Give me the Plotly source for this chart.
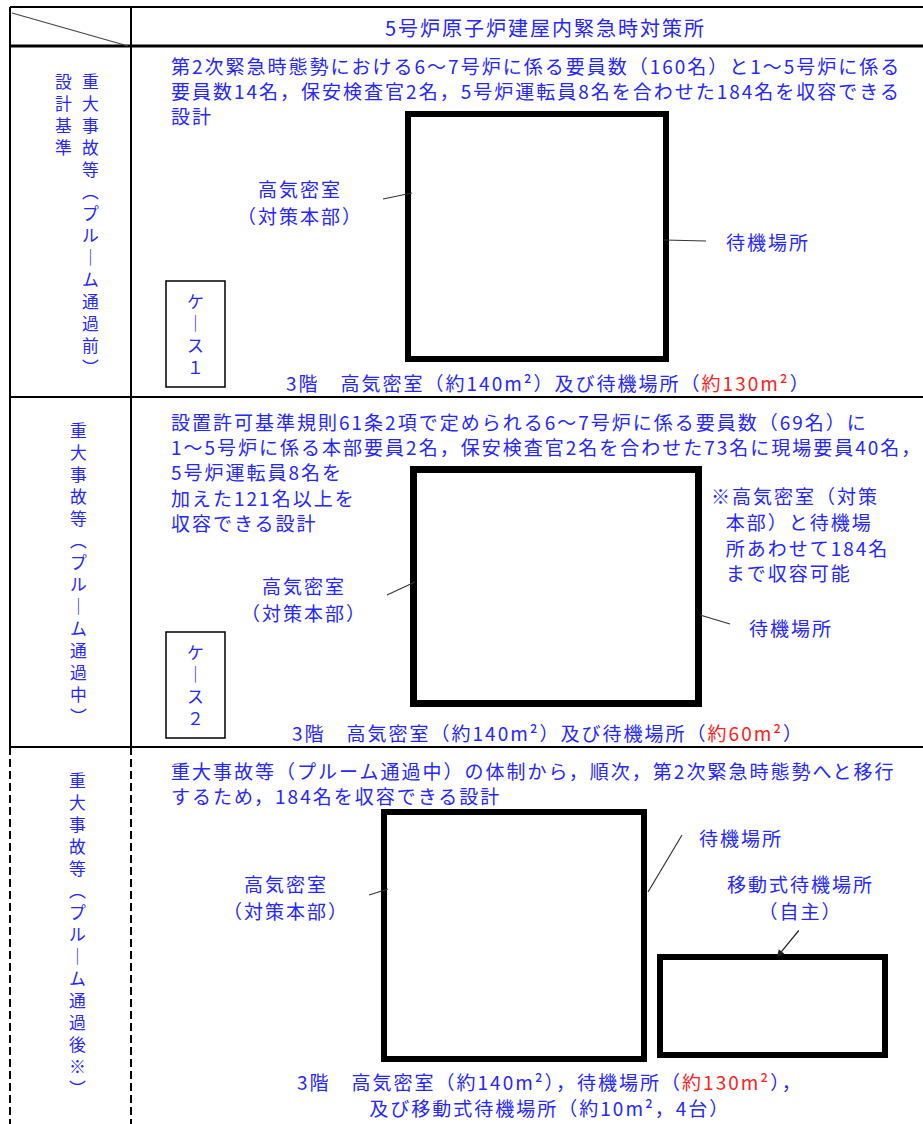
import plotly.graph_objects as go

# ---------------- content ----------------
HEADER_TITLE = "5号炉原子炉建屋内緊急時対策所"
ROW_LABELS = ["重大事故等（プルーム通過前）",
              "重大事故等（プルーム通過中）",
              "重大事故等（プルーム通過後※）"]
DESIGN_BASIS_LABEL = "設計基準"
CASE_LABELS = ["ケース１", "ケース２"]
ROW_TEXT = [
    ["第2次緊急時態勢における6～7号炉に係る要員数（160名）と1～5号炉に係る",
     "要員数14名，保安検査官2名，5号炉運転員8名を合わせた184名を収容できる",
     "設計"],
    ["設置許可基準規則61条2項で定められる6～7号炉に係る要員数（69名）に",
     "1～5号炉に係る本部要員2名，保安検査官2名を合わせた73名に現場要員40名，",
     "5号炉運転員8名を",
     "加えた121名以上を",
     "収容できる設計"],
    ["重大事故等（プルーム通過中）の体制から，順次，第2次緊急時態勢へと移行",
     "するため，184名を収容できる設計"],
]
NOTE_LINES = ["※高気密室（対策", "本部）と待機場", "所あわせて184名", "まで収容可能"]
HAC_NAME = ["高気密室", "（対策本部）"]
WAIT_NAME = "待機場所"
MOBILE_NAME = ["移動式待機場所", "（自主）"]
HAC_AREA = [140, 140, 140]      # m2
WAIT_AREA = [130, 60, 130]      # m2
MOBILE_AREA = 10                # m2
MOBILE_UNITS = 4

# ---------------- style ----------------
FONT = "Noto Sans CJK JP"
BLUE = "#2626ff"
RED = "#ff2020"
GLYPH = 19          # glyph size of the text
SPACING = 2         # letter spacing (px)
W, H = 923, 1124

fig = go.Figure()
shapes = []
ann = []


def line(x0, y0, x1, y1, width=2, color="black", dash=None):
    d = dict(type="line", xref="x", yref="y", x0=x0, y0=y0, x1=x1, y1=y1,
             line=dict(color=color, width=width))
    if dash:
        d["line"]["dash"] = dash
    shapes.append(d)


def rect(x0, y0, x1, y1, width=6, color="black"):
    shapes.append(dict(type="rect", xref="x", yref="y", x0=x0, y0=y0, x1=x1, y1=y1,
                       line=dict(color=color, width=width), fillcolor="rgba(0,0,0,0)"))


def block(x, y_first, lines, pitch=25.0, size=GLYPH, spacing=SPACING,
          xanchor="left", align="left", color=BLUE):
    """Multi-line text: line pitch set by base font, glyph size by inner span."""
    base = pitch / 1.3
    body = "<br>".join(
        f"<span style='font-size:{size}px;letter-spacing:{spacing}px'>{s}</span>"
        for s in lines)
    yc = y_first + (len(lines) - 1) * pitch / 2
    ann.append(dict(x=x, y=yc, xref="x", yref="y", text=body, showarrow=False,
                    xanchor=xanchor, yanchor="middle", align=align, borderpad=0,
                    font=dict(family=FONT, size=base, color=color)))


VERT = {"（": "︵", "）": "︶", "ー": "｜"}


def vtext(x, y_first, s, pitch=22.0, size=16.8):
    """Vertical (tategaki) column: one character per line."""
    chars = [VERT.get(c, c) for c in s]
    block(x, y_first, chars, pitch=pitch, size=size, spacing=0,
          xanchor="center", align="center")


def area(v, red=False):
    s = f"約{v}m²"
    return f"<span style='color:{RED}'>{s}</span>" if red else s


# ---------------- table grid ----------------
line(10, 7, W, 7, 2)
line(10, 46, W, 46, 3)
line(10, 397, W, 397, 2)
line(10, 747, W, 747, 2)
line(10, 7, 10, 747, 2)
line(131, 7, 131, 747, 2)
line(10, 747, 10, H, 2, dash="8px,4px")
line(131, 747, 131, H, 2, dash="8px,4px")
line(12, 13, 128, 46, 1.2, color="#444")

block(545, 27, [HEADER_TITLE], size=20, xanchor="center", align="center")

# ---------------- left column labels ----------------
vtext(90, 81, ROW_LABELS[0])
vtext(63, 81, DESIGN_BASIS_LABEL)
vtext(78, 430, ROW_LABELS[1])
vtext(77, 780, ROW_LABELS[2])

# case boxes
for (y0, y1), lab in zip([(281, 387), (632, 738)], CASE_LABELS):
    rect(166, y0, 225, y1, width=1.5)
    vtext(195.5, y0 + 20, lab)

# ---------------- row texts ----------------
block(170, 65, ROW_TEXT[0], pitch=25)
block(170, 422, ROW_TEXT[1], pitch=25.2)
block(170, 770, ROW_TEXT[2], pitch=25)

# ---------------- row 1 diagram ----------------
rect(408, 114, 666, 359, 6)
line(383, 199, 412, 193, 1.2, "#333")
line(664, 240, 706, 241, 1.2, "#333")
block(300, 188, HAC_NAME, pitch=27, xanchor="center", align="center")
block(725, 241, [WAIT_NAME])
block(285, 382, [f"3階　高気密室（{area(HAC_AREA[0])}）及び{WAIT_NAME}（{area(WAIT_AREA[0], True)}）"])

# ---------------- row 2 diagram ----------------
rect(413.5, 469.5, 698.5, 703.5, 7)
line(387, 595, 415, 582, 1.2, "#333")
line(700, 615, 730, 624, 1.2, "#333")
block(304, 585, HAC_NAME, pitch=27, xanchor="center", align="center")
block(748, 627, [WAIT_NAME])
block(710, 495, [NOTE_LINES[0]] + ["\u2002\u200a" + s for s in NOTE_LINES[1:]], pitch=25.8)
block(291, 732, [f"3階　高気密室（{area(HAC_AREA[1])}）及び{WAIT_NAME}（{area(WAIT_AREA[1], True)}）"])

# ---------------- row 3 diagram ----------------
rect(384, 812, 644, 1059, 6)
rect(660, 957, 885, 1055, 6)
line(369, 895, 388, 889, 1.2, "#333")
line(682, 835, 648, 892, 1.2, "#333")
block(286, 883, HAC_NAME, pitch=27, xanchor="center", align="center")
block(698, 837, [WAIT_NAME])
block(800, 883, MOBILE_NAME, pitch=27, xanchor="center", align="center")
ann.append(dict(x=777, y=957, ax=800, ay=929, xref="x", yref="y", axref="x", ayref="y",
                showarrow=True, arrowhead=2, arrowsize=1.2, arrowwidth=1.2,
                arrowcolor="#222", text=""))
block(550, 1081,
      [f"3階　高気密室（{area(HAC_AREA[2])}），{WAIT_NAME}（{area(WAIT_AREA[2], True)}），",
       f"及び移動式{WAIT_NAME}（{area(MOBILE_AREA)}，{MOBILE_UNITS}台）"],
      pitch=26, xanchor="center", align="center")

fig.update_layout(
    width=W, height=H, autosize=False,
    margin=dict(l=0, r=0, t=0, b=0, pad=0),
    paper_bgcolor="white", plot_bgcolor="white",
    xaxis=dict(range=[0, W], visible=False, fixedrange=True),
    yaxis=dict(range=[H, 0], visible=False, fixedrange=True),
    shapes=shapes, annotations=ann, showlegend=False,
)

fig.write_html("out.html", config={"displayModeBar": False},
               post_script="document.body.style.margin='0';document.body.style.overflow='hidden';")
